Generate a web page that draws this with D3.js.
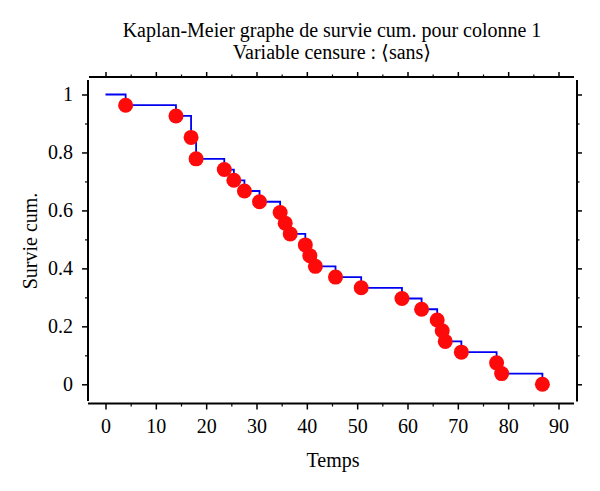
<!DOCTYPE html>
<html>
<head>
<meta charset="utf-8">
<script src="https://cdn.jsdelivr.net/npm/d3@7"></script>
<style>
  body { margin: 0; background: #fff; }
  text { font-family: "Liberation Serif", "DejaVu Serif", serif; fill: #000; }
</style>
</head>
<body>
<div class="kmChart"></div>
<script>
// event times (Temps) and cumulative survival
const times = [4, 14, 17, 18, 23.6, 25.5, 27.6, 30.6, 34.7, 35.7, 36.7, 39.7, 40.6,
  41.7, 45.7, 50.8, 58.9, 62.8, 65.9, 66.9, 67.5, 70.7, 77.7, 78.7, 86.8]
const survival = [0.963, 0.926, 0.852, 0.778, 0.741, 0.704, 0.667, 0.630, 0.593,
  0.556, 0.519, 0.481, 0.444, 0.407, 0.370, 0.333, 0.296, 0.259, 0.222, 0.185,
  0.148, 0.111, 0.074, 0.037, 0]
const xTicks = [0, 10, 20, 30, 40, 50, 60, 70, 80, 90]
const yTicks = [0, 0.2, 0.4, 0.6, 0.8, 1]
const xMinor = [5, 15, 25, 35, 45, 55, 65, 75, 85]
const yMinor = [0.1, 0.3, 0.5, 0.7, 0.9]
const titleLines = ['Kaplan-Meier graphe de survie cum. pour colonne 1', 'Variable censure : \u27e8sans\u27e9']

const width = 600
const height = 491
// frame edges (each side is its own line, they don't meet at the corners)
const fLeft = 88, fRight = 577, fTop = 77, fBottom = 403.5

const x = d3.scaleLinear().domain([0, 90]).range([105.5, 558.5])
const y = d3.scaleLinear().domain([0, 1]).range([384.3, 94.5])

const svg = d3.select('.kmChart').append('svg')
  .attr('width', width)
  .attr('height', height)

// title
svg.append('text')
  .attr('x', 332)
  .attr('text-anchor', 'middle')
  .attr('font-size', 20)
  .selectAll('tspan')
  .data(titleLines)
  .join('tspan')
  .attr('x', 332)
  .attr('y', (d, i) => 37 + i * 22)
  .text(d => d)

// frame
const frame = svg.append('g').attr('stroke', '#000').attr('stroke-width', 2)
frame.append('line').attr('x1', fLeft).attr('x2', fLeft).attr('y1', 80).attr('y2', 401)
frame.append('line').attr('x1', fRight).attr('x2', fRight).attr('y1', 80).attr('y2', 401.5)
frame.append('line').attr('x1', 89).attr('x2', 574).attr('y1', fTop).attr('y2', fTop)
frame.append('line').attr('x1', 88).attr('x2', 574).attr('y1', fBottom).attr('y2', fBottom)

const tidy = g => {
  g.select('.domain').remove()
  g.selectAll('.tick line').attr('stroke', '#000').attr('stroke-width', 1.5)
  g.selectAll('.tick text').attr('font-size', 20)
}

// major axes
svg.append('g')
  .attr('transform', `translate(0,${fBottom})`)
  .call(d3.axisBottom(x).tickValues(xTicks).tickSize(6).tickPadding(9).tickFormat(d3.format('d')))
  .call(tidy)
svg.append('g')
  .attr('transform', `translate(0,${fTop})`)
  .call(d3.axisTop(x).tickValues(xTicks).tickSize(5).tickFormat(''))
  .call(tidy)
svg.append('g')
  .attr('transform', `translate(${fLeft},0)`)
  .call(d3.axisLeft(y).tickValues(yTicks).tickSize(6).tickPadding(9).tickFormat(d => d === 0 || d === 1 ? d3.format('d')(d) : d3.format('.1f')(d)))
  .call(tidy)
svg.append('g')
  .attr('transform', `translate(${fRight},0)`)
  .call(d3.axisRight(y).tickValues(yTicks).tickSize(5).tickFormat(''))
  .call(tidy)

// minor ticks
const tidyMinor = g => {
  g.select('.domain').remove()
  g.selectAll('.tick line').attr('stroke', '#000').attr('stroke-width', 1.2)
}
svg.append('g').attr('transform', `translate(0,${fBottom})`)
  .call(d3.axisBottom(x).tickValues(xMinor).tickSize(3).tickFormat('')).call(tidyMinor)
svg.append('g').attr('transform', `translate(0,${fTop})`)
  .call(d3.axisTop(x).tickValues(xMinor).tickSize(2.5).tickFormat('')).call(tidyMinor)
svg.append('g').attr('transform', `translate(${fLeft},0)`)
  .call(d3.axisLeft(y).tickValues(yMinor).tickSize(3).tickFormat('')).call(tidyMinor)
svg.append('g').attr('transform', `translate(${fRight},0)`)
  .call(d3.axisRight(y).tickValues(yMinor).tickSize(2.5).tickFormat('')).call(tidyMinor)

// axis titles
svg.append('text')
  .attr('x', 333).attr('y', 467)
  .attr('text-anchor', 'middle')
  .attr('font-size', 20)
  .text('Temps')
svg.append('text')
  .attr('transform', `translate(37,241) rotate(-90)`)
  .attr('text-anchor', 'middle')
  .attr('font-size', 20)
  .text('Survie cum.')

// step curve, starts at (0, 1)
const stepData = [[0, 1]].concat(times.map((t, i) => [t, survival[i]]))
const line = d3.line()
  .x(d => x(d[0]))
  .y(d => y(d[1]))
  .curve(d3.curveStepAfter)
svg.append('path')
  .datum(stepData)
  .attr('fill', 'none')
  .attr('stroke', '#0000f0')
  .attr('stroke-width', 1.8)
  .attr('d', line)

// event points
svg.append('g')
  .selectAll('circle')
  .data(times)
  .join('circle')
  .attr('cx', d => x(d))
  .attr('cy', (d, i) => y(survival[i]))
  .attr('r', 7.5)
  .attr('fill', '#ff0a0a')
</script>
</body>
</html>
